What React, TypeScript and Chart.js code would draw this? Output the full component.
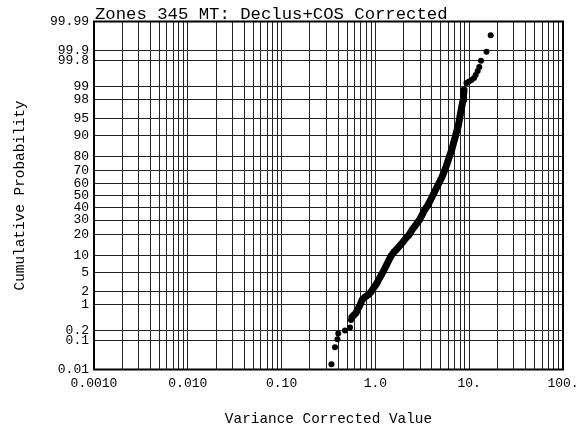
import React, { useEffect, useRef } from "react";
import { Chart, registerables } from "chart.js";

Chart.register(...registerables);

const TITLE = "Zones 345 MT: Declus+COS Corrected";
const X_TITLE = "Variance Corrected Value";
const Y_TITLE = "Cumulative Probability";

// x axis decades and their labels
const X_DECADES = [0.001, 0.01, 0.1, 1, 10, 100];
const X_DECADE_LABELS = ["0.0010", "0.010", "0.10", "1.0", "10.", "100."];

// y axis probabilities (percent) and labels
const Y_TICK_PROBS = [0.01, 0.1, 0.2, 1, 2, 5, 10, 20, 30, 40, 50, 60, 70, 80, 90, 95, 98, 99, 99.8, 99.9, 99.99];
const Y_TICK_LABELS = ["0.01", "0.1", "0.2", "1", "2", "5", "10", "20", "30", "40", "50", "60", "70", "80", "90", "95", "98", "99", "99.8", "99.9", "99.99"];

// lower tail samples
const LOWER_X = [0.340, 0.371, 0.394, 0.402, 0.474, 0.536, 0.549];
const LOWER_P = [0.0155, 0.059, 0.106, 0.159, 0.196, 0.24, 0.39];

// dense body of the distribution
const BODY_X = [0.563, 0.591, 0.621, 0.652, 0.685, 0.720, 0.774, 0.834, 0.898, 0.943, 0.990, 1.040, 1.092, 1.147, 1.205, 1.266, 1.329, 1.396, 1.467, 1.578, 1.698, 1.828, 1.968, 2.118, 2.280, 2.455, 2.643, 2.845, 2.989, 3.140, 3.298, 3.463, 3.637, 3.820, 4.012, 4.214, 4.426, 4.650, 4.883, 5.129, 5.387, 5.657, 5.943, 6.242, 6.555, 6.801, 7.057, 7.322, 7.596, 7.786, 7.980, 8.178, 8.381, 8.590, 8.696, 8.803];
const BODY_P = [0.47, 0.53, 0.60, 0.77, 0.96, 1.28, 1.50, 1.68, 1.96, 2.29, 2.66, 3.07, 3.72, 4.37, 5.10, 6.07, 7.16, 8.41, 9.80, 11.37, 12.65, 14.28, 16.0, 18.2, 19.9, 23.1, 25.7, 28.6, 30.8, 33.8, 37.0, 39.5, 42.0, 45.3, 48.7, 52.1, 55.5, 58.9, 62.2, 65.4, 69.2, 72.9, 77.0, 80.7, 84.0, 86.9, 89.0, 91.3, 92.8, 94.2, 95.5, 96.45, 97.3, 97.9, 98.4, 98.79];

// upper tail samples
const UPPER_X = [9.358, 9.952, 10.58, 11.25, 11.73, 12.32, 12.82, 13.36, 15.29, 16.95];
const UPPER_P = [99.19, 99.26, 99.32, 99.40, 99.50, 99.61, 99.70, 99.80, 99.894, 99.969];

const FONT = '"Courier New", "Liberation Mono", monospace';

// inverse standard normal CDF (probability-paper transform)
function probit(p: number): number {
  const a = [-3.969683028665376e1, 2.209460984245205e2, -2.759285104469687e2, 1.38357751867269e2, -3.066479806614716e1, 2.506628277386304];
  const b = [-5.447609879822406e1, 1.615858368580409e2, -1.556989798598866e2, 6.680131188771972e1, -1.328068155288572e1];
  const c = [-7.784894002430293e-3, -3.223964580411365e-1, -2.400758277161838, -2.549732539343734, 4.374664141464968, 2.938163982698783];
  const d = [7.784695709041462e-3, 3.224671290700398e-1, 2.445134137142996, 3.754408661907416];
  const pl = 0.02425;
  const ph = 1 - pl;
  if (p < pl) {
    const q = Math.sqrt(-2 * Math.log(p));
    return (((((c[0] * q + c[1]) * q + c[2]) * q + c[3]) * q + c[4]) * q + c[5]) / ((((d[0] * q + d[1]) * q + d[2]) * q + d[3]) * q + 1);
  }
  if (p <= ph) {
    const q = p - 0.5;
    const r = q * q;
    return ((((((a[0] * r + a[1]) * r + a[2]) * r + a[3]) * r + a[4]) * r + a[5]) * q) / (((((b[0] * r + b[1]) * r + b[2]) * r + b[3]) * r + b[4]) * r + 1);
  }
  const q = Math.sqrt(-2 * Math.log(1 - p));
  return -(((((c[0] * q + c[1]) * q + c[2]) * q + c[3]) * q + c[4]) * q + c[5]) / ((((d[0] * q + d[1]) * q + d[2]) * q + d[3]) * q + 1);
}

const toPoints = (xs: number[], ps: number[]) => xs.map((x, i) => ({ x, y: probit(ps[i] / 100) }));

export default function App() {
  const ref = useRef<HTMLCanvasElement | null>(null);

  useEffect(() => {
    if (!ref.current) return;
    const xTickLabels: string[] = [];
    const yMin = probit(Y_TICK_PROBS[0] / 100);
    const yMax = probit(Y_TICK_PROBS[Y_TICK_PROBS.length - 1] / 100);

    const framePlugin = {
      id: "frame",
      afterDraw(chart: any) {
        const { ctx, chartArea } = chart;
        ctx.save();
        ctx.strokeStyle = "#000";
        ctx.lineWidth = 2;
        ctx.strokeRect(chartArea.left, chartArea.top, chartArea.right - chartArea.left, chartArea.bottom - chartArea.top);
        ctx.fillStyle = "#000";
        ctx.font = `17.3px ${FONT}`;
        ctx.textAlign = "left";
        ctx.textBaseline = "alphabetic";
        ctx.fillText(TITLE, chartArea.left + 1, chartArea.top - 2.5);
        ctx.restore();
      },
    };

    const chart = new Chart(ref.current, {
      type: "scatter",
      data: {
        datasets: [
          {
            data: toPoints(BODY_X, BODY_P),
            showLine: true,
            borderColor: "#000",
            borderWidth: 7,
            borderJoinStyle: "round",
            borderCapStyle: "round",
            backgroundColor: "#000",
            pointRadius: 3,
            pointBorderWidth: 0,
          },
          {
            data: toPoints(LOWER_X, LOWER_P),
            backgroundColor: "#000",
            borderColor: "#000",
            pointRadius: 3,
            pointBorderWidth: 0,
          },
          {
            data: toPoints(UPPER_X, UPPER_P),
            backgroundColor: "#000",
            borderColor: "#000",
            pointRadius: 3,
            pointBorderWidth: 0,
          },
        ],
      },
      options: {
        animation: false,
        responsive: false,
        layout: { padding: { top: 21.5, right: 15, left: 0, bottom: 0 } },
        plugins: { legend: { display: false }, tooltip: { enabled: false }, title: { display: false } },
        scales: {
          x: {
            type: "logarithmic",
            min: X_DECADES[0],
            max: X_DECADES[X_DECADES.length - 1],
            afterBuildTicks: (scale: any) => {
              const ticks: any[] = [];
              xTickLabels.length = 0;
              for (let k = 0; k < X_DECADES.length - 1; k++) {
                for (let m = 1; m <= 9; m++) {
                  ticks.push({ value: m * X_DECADES[k] });
                  xTickLabels.push(m === 1 ? X_DECADE_LABELS[k] : "");
                }
              }
              ticks.push({ value: X_DECADES[X_DECADES.length - 1] });
              xTickLabels.push(X_DECADE_LABELS[X_DECADE_LABELS.length - 1]);
              scale.ticks = ticks;
            },
            afterFit: (scale: any) => {
              scale.height = 63.5;
              scale.paddingLeft = 0;
              scale.paddingRight = 0;
            },
            grid: { color: "#222", lineWidth: 1, drawTicks: false },
            border: { display: false },
            ticks: {
              autoSkip: false,
              maxRotation: 0,
              minRotation: 0,
              padding: 6,
              color: "#000",
              font: { family: FONT, size: 13 },
              callback: (_v: any, i: number) => xTickLabels[i],
            },
            title: {
              display: true,
              text: X_TITLE,
              color: "#000",
              font: { family: FONT, size: 14.4 },
              padding: { top: 0, bottom: 5.6 },
            },
          },
          y: {
            type: "linear",
            min: yMin,
            max: yMax,
            afterBuildTicks: (scale: any) => {
              scale.ticks = Y_TICK_PROBS.map((p) => ({ value: probit(p / 100) }));
            },
            afterFit: (scale: any) => {
              scale.width = 94;
              scale.paddingTop = 0;
              scale.paddingBottom = 0;
            },
            grid: { color: "#222", lineWidth: 1, drawTicks: false },
            border: { display: false },
            ticks: {
              autoSkip: false,
              padding: 5,
              color: "#000",
              font: { family: FONT, size: 13 },
              callback: (_v: any, i: number) => Y_TICK_LABELS[i],
            },
            title: {
              display: true,
              text: Y_TITLE,
              color: "#000",
              font: { family: FONT, size: 14.4 },
              padding: { top: 11.4, bottom: 0 },
            },
          },
        },
      },
      plugins: [framePlugin],
    } as any);

    return () => chart.destroy();
  }, []);

  return (
    <div style={{ position: "absolute", left: 0, top: 0, width: 578, height: 433, background: "#fff" }}>
      <canvas ref={ref} width={578} height={433} style={{ display: "block" }} />
    </div>
  );
}
